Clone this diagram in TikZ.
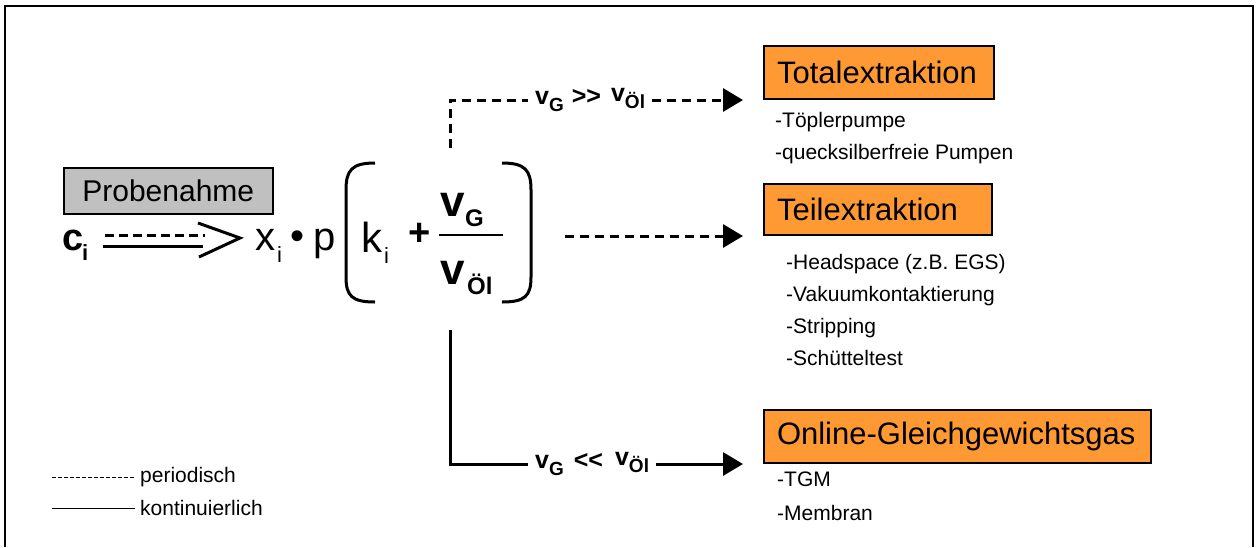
\documentclass[tikz,border=0pt]{standalone}
\usepackage{fontspec}
\setmainfont{Liberation Sans}
\usetikzlibrary{arrows.meta}
\definecolor{boxorange}{RGB}{255,153,51}
\definecolor{boxgray}{RGB}{192,192,192}
\newcommand{\myfs}[1]{\fontsize{#1}{#1}\selectfont}
\begin{document}
\begin{tikzpicture}[x=1pt,y=-1pt,
  txt/.style={inner sep=0pt, anchor=base west},
  conn/.style={line width=3pt},
  dsh/.style={conn, dash pattern=on 9pt off 6pt},
  tip/.style={-{Triangle[length=20pt,width=23pt]}},
  resbox/.style={draw, line width=2pt, fill=boxorange, anchor=south west, inner xsep=13pt, align=left, font=\myfs{31}},
  item/.style={anchor=base west, inner sep=0pt, font=\myfs{21}},
  lbl/.style={font=\bfseries\myfs{25}, inner xsep=7pt, inner ysep=0pt, anchor=west},
  legtxt/.style={anchor=west, inner xsep=5pt, inner ysep=0pt, font=\myfs{21}},
]
\useasboundingbox (0,0) rectangle (1257,547);
% frame
\draw[line width=2pt] (5,547) -- (5,6) -- (1253,6) -- (1253,547);

% Probenahme
\node[draw, line width=1.5pt, fill=boxgray, minimum width=209pt, minimum height=46pt, anchor=north west, font=\myfs{30}, inner sep=0pt] (probe) at (63,167) {Probenahme};

% c_i
\node[txt, font=\bfseries\myfs{38}] (c) at (62,250) {c};
\node[txt, font=\bfseries\myfs{22}] (ci) at (82,260) {i};

% double arrow
\coordinate (daS) at (105,235); \coordinate (daE) at (205,235);
\coordinate (dbS) at (103,246); \coordinate (dbE) at (203,246);
\draw[line width=3pt, dash pattern=on 9pt off 5pt] (daS) -- (daE);
\draw[line width=3pt] (dbS) -- (dbE);
\draw[line width=3pt] (198,223) -- (240,238) -- (199,257);

% formula
\node[txt, font=\myfs{40}] (x) at (255,250) {x};
\node[txt, font=\myfs{22}] (xi) at (277,262) {i};
\node[font=\myfs{40}, inner sep=0pt] (dot) at (297,240) {•};
\node[txt, font=\myfs{40}] (p) at (313,250) {p};
\draw[line width=3pt] (375,163) .. controls (352,163) and (346,170) .. (346,190) -- (346,277) .. controls (346,296) and (352,302) .. (375,302);
\draw[line width=3pt] (502,163) .. controls (525,163) and (531,170) .. (531,190) -- (531,277) .. controls (531,296) and (525,302) .. (502,302);
\node[txt, font=\myfs{42}] (k) at (361,252) {k};
\node[txt, font=\myfs{22}] (ki) at (384,263) {i};
\node[font=\bfseries\myfs{38}, inner sep=0pt] (plus) at (420,234) {+};
\node[txt, font=\bfseries\myfs{44}] (vg) at (440,216) {v};
\node[txt, font=\bfseries\myfs{24}] (g) at (465,226) {G};
\draw[line width=2.5pt] (439,235) -- (503,235);
\node[txt, font=\bfseries\myfs{44}] (vo) at (440,284) {v};
\node[txt, font=\bfseries\myfs{24}] (ol) at (467,294) {Öl};

% result boxes
\node[resbox, minimum width=230pt, minimum height=53pt, text width=204pt] (total) at (763,100) {Totalextraktion};
\node[resbox, minimum width=228pt, minimum height=51pt, text width=202pt] (teil) at (763,236) {Teilextraktion};
\node[resbox, minimum width=387pt, minimum height=53pt, text width=361pt] (online) at (763,464) {Online-Gleichgewichtsgas};

% items
\node[item] (t1) at (775,127) {-Töplerpumpe};
\node[item] (t2) at (775,159) {-quecksilberfreie Pumpen};
\node[item] (h1) at (786,269) {-Headspace (z.B. EGS)};
\node[item] (h2) at (786,301) {-Vakuumkontaktierung};
\node[item] (h3) at (786,333) {-Stripping};
\node[item] (h4) at (786,365) {-Schütteltest};
\node[item] (o1) at (777,486) {-TGM};
\node[item] (o2) at (777,520) {-Membran};

% connectors
\node[lbl] (tlab) at (528,100) {v\raisebox{-7pt}{\myfs{19}G}\hspace{8pt}>\kern0pt>\hspace{10pt}\raisebox{3pt}{v\raisebox{-7pt}{\myfs{19}Öl}}};
\coordinate (totS) at (450,148);
\draw[dsh] (totS) |- (tlab.west);
\draw[dsh, tip] (tlab.east) -- ([xshift=-20pt]total.south west);

\coordinate (teilS) at (565,236);
\draw[dsh, tip] (teilS) -- ([xshift=-20pt]teil.south west);

\node[lbl] (olab) at (528,464) {v\raisebox{-7pt}{\myfs{19}G}\hspace{10pt}<\kern0pt<\hspace{12pt}\raisebox{3pt}{v\raisebox{-7pt}{\myfs{19}Öl}}};
\coordinate (onS) at (450,330);
\draw[conn] (onS) |- (olab.west);
\draw[conn, tip] (olab.east) -- ([xshift=-20pt]online.south west);

% legend
\node[legtxt] (per) at (135,477) {periodisch};
\node[legtxt] (kon) at (135,508) {kontinuierlich};
\coordinate (lgA) at (52,477); \coordinate (lgB) at (52,508);
\draw[line width=1pt, dash pattern=on 4pt off 2pt] (lgA) -- (per.west);
\draw[line width=1pt] (lgB) -- (kon.west);
\end{tikzpicture}
\end{document}
